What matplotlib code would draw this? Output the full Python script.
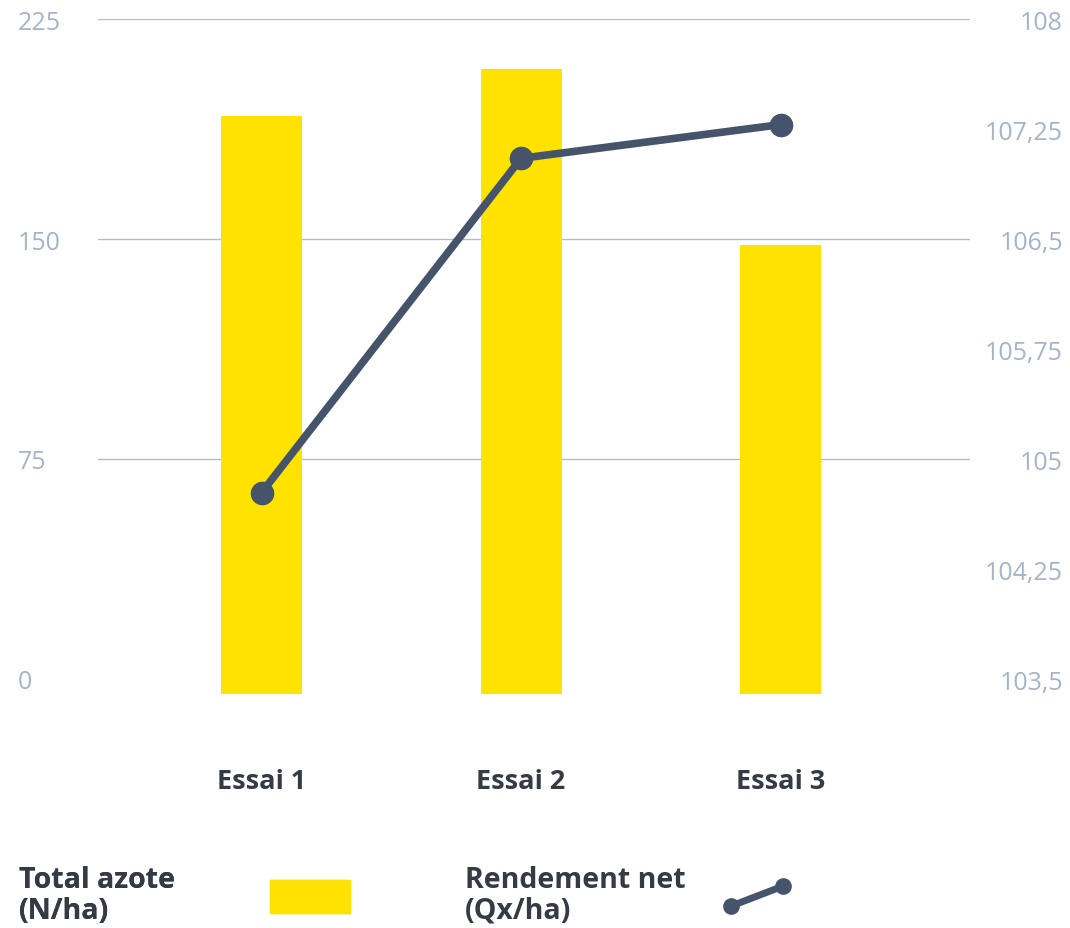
import matplotlib
matplotlib.use('Agg')
import matplotlib.pyplot as plt
from matplotlib.legend_handler import HandlerBase
from matplotlib.lines import Line2D
from matplotlib.patches import Patch

# Donnees
essais = ['Essai 1', 'Essai 2', 'Essai 3']
azote = [192, 208, 148]            # Total azote (N/ha)
rendement = [104.77, 107.05, 107.28]  # Rendement net (Qx/ha)
ticks_gauche = [0, 75, 150, 225]
ticks_droite = [103.5, 104.25, 105, 105.75, 106.5, 107.25, 108]

jaune = '#FFE300'
ardoise = '#45546B'
gris_bleu = '#A3B4CB'
grille = '#AFBDD1'
texte = '#353B45'

plt.rcParams['font.family'] = ['Open Sans', 'DejaVu Sans']

fig = plt.figure(figsize=(10.7, 9.29), dpi=100)
ax = fig.add_axes([98 / 1070, 1 - 680 / 929, 872 / 1070, 660 / 929])

# les barres descendent un peu sous le zero dans l'original
base = -5
x = range(len(essais))
ax.bar(x, [v - base for v in azote], bottom=base, width=0.312,
       color=jaune, clip_on=False, zorder=2)
ax.set_xlim(-0.63, 2.73)
ax.set_ylim(0, 225)
ax.set_yticks(ticks_gauche)
ax.set_xticks(list(x))
ax.set_xticklabels(essais, fontsize=19.5, fontweight='bold', color=texte)
ax.tick_params(axis='x', length=0, pad=64)
ax.tick_params(axis='y', length=0, pad=58, labelsize=18, labelcolor=gris_bleu)
for lab in ax.get_yticklabels():
    lab.set_horizontalalignment('left')
ax.grid(axis='y', color=grille, linewidth=1)
ax.yaxis.get_gridlines()[0].set_visible(False)
ax.set_axisbelow(True)
for s in ax.spines.values():
    s.set_visible(False)

ax2 = ax.twinx()
ax2.plot(list(x), rendement, color=ardoise, lw=5.5, marker='o', ms=16,
         solid_capstyle='round', zorder=3)
ax2.set_ylim(103.5, 108)
ax2.set_yticks(ticks_droite)
ax2.set_yticklabels([f'{t:g}'.replace('.', ',') for t in ticks_droite])
ax2.tick_params(axis='y', length=0, pad=67, labelsize=18, labelcolor=gris_bleu)
for lab in ax2.get_yticklabels():
    lab.set_horizontalalignment('right')
for s in ax2.spines.values():
    s.set_visible(False)


class LigneDiagonale(HandlerBase):
    def create_artists(self, legend, orig, xd, yd, w, h, fontsize, trans):
        l = Line2D([-xd, -xd + w], [-yd, -yd + h], color=ardoise, lw=5,
                   marker='o', ms=11, solid_capstyle='round')
        l.set_transform(trans)
        return [l]


fs = 20.5
em = fs * 100 / 72
leg1 = fig.legend([Patch(color=jaune)], ['Total azote\n(N/ha)'],
                  loc='upper left', bbox_to_anchor=(5 / 1070, 1 - 852 / 929),
                  frameon=False, markerfirst=False, borderpad=0,
                  handlelength=80 / em, handleheight=41 / em, handletextpad=95 / em,
                  prop={'size': fs, 'weight': 'bold'}, labelcolor=texte)
fig.add_artist(leg1)
leg2 = fig.legend([Line2D([], [])], ['Rendement net\n(Qx/ha)'],
                  loc='upper left', bbox_to_anchor=(451 / 1070, 1 - 852 / 929),
                  frameon=False, markerfirst=False, borderpad=0,
                  handlelength=52 / em, handleheight=20 / em, handletextpad=45 / em,
                  prop={'size': fs, 'weight': 'bold'}, labelcolor=texte,
                  handler_map={Line2D: LigneDiagonale()})
for leg in (leg1, leg2):
    for t in leg.get_texts():
        t.set_linespacing(1.08)

fig.savefig('out.png', dpi=100, facecolor='white')
